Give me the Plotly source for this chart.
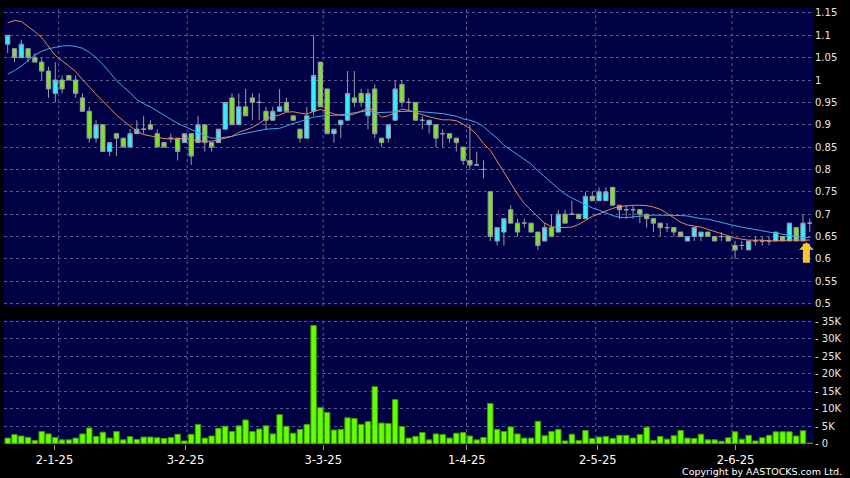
import plotly.graph_objects as go

# ---------------- data ----------------
IDX = list(range(119))  # trading-day index, 0 = 19 Dec 2024

OPEN = [1.08,1.07,1.05,1.07,1.05,1.04,1.02,0.97,1.00,1.01,
        1.00,0.96,0.93,0.87,0.90,0.84,0.88,0.87,0.85,0.88,
        0.89,0.90,0.88,0.86,0.87,0.87,0.86,0.88,0.86,0.90,
        0.86,0.86,0.89,0.96,0.90,0.94,0.96,0.95,0.93,0.91,
        0.93,0.95,0.92,0.89,0.87,0.93,1.04,0.98,0.88,0.90,
        0.91,0.96,0.97,0.92,0.98,0.87,0.87,0.91,0.99,0.95,
        0.95,0.91,0.90,0.90,0.88,0.88,0.87,0.85,0.82,0.81,
        0.80,0.75,0.64,0.66,0.71,0.68,0.68,0.68,0.66,0.64,
        0.67,0.66,0.70,0.70,0.70,0.69,0.74,0.73,0.73,0.76,
        0.72,0.71,0.71,0.71,0.70,0.69,0.68,0.67,0.67,0.66,
        0.64,0.65,0.65,0.66,0.65,0.65,0.65,0.63,0.63,0.62,
        0.64,0.64,0.64,0.64,0.65,0.64,0.67,0.64,0.68]
HIGH = [1.10,1.07,1.09,1.07,1.06,1.05,1.03,1.04,1.01,1.01,
        1.01,0.97,0.94,0.91,0.90,0.86,0.88,0.87,0.89,0.91,
        0.92,0.91,0.89,0.86,0.88,0.87,0.88,0.88,0.92,0.90,
        0.86,0.89,0.95,0.97,0.97,0.98,0.97,0.97,0.94,0.94,
        0.98,0.96,0.92,0.89,0.94,1.10,1.04,0.98,0.89,0.91,
        1.02,1.02,0.98,0.98,0.99,0.87,0.90,1.00,1.00,0.96,
        0.95,0.92,0.91,0.90,0.89,0.88,0.87,0.85,0.90,0.84,
        0.82,0.75,0.67,0.69,0.72,0.69,0.69,0.68,0.66,0.68,
        0.70,0.71,0.71,0.73,0.70,0.75,0.75,0.76,0.76,0.76,
        0.72,0.72,0.72,0.71,0.70,0.69,0.68,0.68,0.67,0.66,
        0.65,0.67,0.66,0.66,0.65,0.66,0.65,0.64,0.64,0.64,
        0.65,0.65,0.65,0.66,0.65,0.68,0.67,0.70,0.69]
LOW = [1.06,1.04,1.05,1.04,1.04,1.00,0.96,0.95,0.97,1.00,
       0.96,0.93,0.86,0.86,0.84,0.83,0.83,0.85,0.85,0.88,
       0.88,0.89,0.85,0.85,0.86,0.82,0.86,0.81,0.86,0.84,
       0.84,0.86,0.89,0.90,0.90,0.92,0.91,0.91,0.89,0.91,
       0.93,0.93,0.91,0.86,0.87,0.92,0.94,0.88,0.86,0.87,
       0.91,0.94,0.94,0.89,0.87,0.85,0.86,0.91,0.94,0.93,
       0.91,0.89,0.88,0.85,0.85,0.86,0.84,0.81,0.80,0.81,
       0.78,0.64,0.63,0.63,0.68,0.65,0.67,0.66,0.62,0.64,
       0.65,0.66,0.68,0.70,0.69,0.69,0.73,0.73,0.73,0.72,
       0.69,0.69,0.69,0.68,0.67,0.66,0.65,0.66,0.65,0.65,
       0.64,0.64,0.64,0.65,0.64,0.64,0.64,0.60,0.62,0.62,
       0.63,0.63,0.63,0.64,0.64,0.64,0.64,0.64,0.66]
CLOSE = [1.10,1.05,1.08,1.05,1.04,1.02,0.98,1.00,0.98,1.00,
         0.97,0.93,0.87,0.90,0.84,0.86,0.87,0.85,0.88,0.89,
         0.89,0.89,0.85,0.85,0.87,0.84,0.88,0.83,0.90,0.86,
         0.85,0.89,0.95,0.90,0.94,0.92,0.95,0.95,0.91,0.93,
         0.94,0.93,0.91,0.87,0.92,1.01,0.94,0.88,0.89,0.91,
         0.97,0.95,0.95,0.97,0.88,0.86,0.90,0.98,0.95,0.95,
         0.91,0.91,0.91,0.87,0.88,0.87,0.86,0.82,0.81,0.81,
         0.80,0.65,0.67,0.69,0.68,0.66,0.68,0.66,0.63,0.67,
         0.65,0.70,0.68,0.70,0.69,0.74,0.73,0.75,0.75,0.72,
         0.71,0.71,0.71,0.70,0.69,0.68,0.67,0.67,0.66,0.65,
         0.65,0.67,0.66,0.65,0.64,0.65,0.64,0.62,0.63,0.64,
         0.64,0.64,0.64,0.66,0.64,0.68,0.64,0.68,0.68]

VOLUME = [1600,2600,2200,1800,900,3500,2800,1800,1100,1100,
          1600,2800,4500,2100,3300,1600,3500,1100,2000,1200,
          1900,1900,1700,1500,1800,2700,800,2700,5500,1600,
          2200,4400,5000,3500,5100,6800,3500,4200,5100,2800,
          8300,5000,3000,4100,5500,33800,10300,8900,3900,4100,
          7400,7200,5500,6300,16300,5900,5800,12600,4900,1600,
          2100,3200,1100,2800,2600,1600,3000,3200,2200,1100,
          1800,11500,4100,3500,4800,2800,1600,1600,6400,2300,
          3500,4100,800,2700,900,3800,1500,1900,2100,1500,
          2400,2400,1600,2600,4700,900,2100,1300,2300,3800,
          1600,1500,2700,1100,1100,700,1700,3400,1300,2400,
          800,1700,2400,3400,3400,3400,2200,3700,200]

MA_SHORT = [1.128,1.133,1.131,1.120,1.108,1.095,1.075,1.055,1.043,1.032,
            1.019,1.001,0.984,0.968,0.953,0.937,0.922,0.909,0.896,0.885,
            0.878,0.875,0.871,0.869,0.868,0.868,0.869,0.867,0.864,0.863,
            0.863,0.866,0.870,0.874,0.883,0.889,0.894,0.903,0.914,0.918,
            0.922,0.928,0.929,0.926,0.924,0.930,0.934,0.930,0.924,0.921,
            0.921,0.924,0.930,0.937,0.932,0.917,0.920,0.927,0.935,0.932,
            0.927,0.922,0.918,0.914,0.911,0.911,0.909,0.901,0.892,0.878,
            0.858,0.843,0.818,0.792,0.767,0.745,0.724,0.708,0.694,0.680,
            0.672,0.670,0.670,0.671,0.677,0.686,0.695,0.701,0.707,0.713,
            0.717,0.719,0.720,0.720,0.719,0.716,0.711,0.702,0.692,0.682,
            0.676,0.673,0.671,0.666,0.661,0.656,0.651,0.647,0.644,0.642,
            0.642,0.642,0.640,0.640,0.641,0.642,0.642,0.642,0.642]
MA_LONG = [1.013,1.021,1.031,1.043,1.056,1.064,1.070,1.073,1.076,1.077,
           1.075,1.071,1.062,1.050,1.035,1.017,0.999,0.985,0.972,0.956,
           0.947,0.940,0.930,0.920,0.912,0.903,0.896,0.890,0.883,0.876,
           0.870,0.870,0.872,0.874,0.878,0.881,0.884,0.888,0.890,0.891,
           0.892,0.897,0.903,0.907,0.912,0.917,0.919,0.921,0.921,0.922,
           0.924,0.927,0.929,0.931,0.927,0.927,0.928,0.929,0.930,0.930,
           0.930,0.929,0.928,0.927,0.925,0.922,0.919,0.913,0.910,0.905,
           0.896,0.882,0.870,0.854,0.843,0.833,0.821,0.812,0.797,0.783,
           0.769,0.757,0.745,0.736,0.729,0.721,0.714,0.709,0.703,0.697,
           0.693,0.692,0.694,0.696,0.697,0.698,0.698,0.698,0.698,0.697,
           0.696,0.693,0.690,0.689,0.685,0.681,0.677,0.674,0.671,0.668,
           0.665,0.663,0.660,0.658,0.655,0.653,0.650,0.648,0.648]

PRICE_TICKS = [0.5, 0.55, 0.6, 0.65, 0.7, 0.75, 0.8, 0.85, 0.9, 0.95, 1.0, 1.05, 1.1, 1.15]
PRICE_TICK_TEXT = ["0.5", "0.55", "0.6", "0.65", "0.7", "0.75", "0.8", "0.85", "0.9", "0.95", "1", "1.05", "1.1", "1.15"]
VOL_TICKS = [0, 5000, 10000, 15000, 20000, 25000, 30000, 35000]
VOL_TICK_TEXT = ["0", "5K", "10K", "15K", "20K", "25K", "30K", "35K"]
DATE_LABELS = ["2-1-25", "3-2-25", "3-3-25", "1-4-25", "2-5-25", "2-6-25"]
DATE_LABEL_POS = [6.88, 26.15, 46.41, 67.54, 86.81, 107.07]
GRID_POS = [7.5, 26.41, 46.41, 67.5, 86.51, 106.56]
SIGNAL_AT = 117.5   # position of the yellow arrow
SIGNAL_PRICE = 0.637

# ---------------- style ----------------
BG = "#000044"
GRID = "#5a5a8c"
CYAN = "#33EEFF"
GREEN = "#7AE624"
EDGE = "#9a9aaa"
VOLC = "#66FF00"
FONT = "DejaVu Sans"
XR = [-0.544, 118.62]

fig = go.Figure()
fig.add_trace(go.Candlestick(
    x=IDX, open=OPEN, high=HIGH, low=LOW, close=CLOSE,
    increasing=dict(fillcolor=CYAN, line=dict(color=EDGE, width=1)),
    decreasing=dict(fillcolor=GREEN, line=dict(color=EDGE, width=1)),
    whiskerwidth=0, showlegend=False, xaxis="x", yaxis="y", hoverinfo="skip"))
fig.add_trace(go.Scatter(x=IDX, y=MA_LONG, mode="lines", line=dict(color="#3FA9F0", width=1),
                         showlegend=False, xaxis="x", yaxis="y", hoverinfo="skip"))
fig.add_trace(go.Scatter(x=IDX, y=MA_SHORT, mode="lines", line=dict(color="#E8875A", width=1),
                         showlegend=False, xaxis="x", yaxis="y", hoverinfo="skip"))
fig.add_trace(go.Bar(x=IDX, y=VOLUME, marker=dict(color=VOLC, line=dict(color="#3f9a00", width=1)),
                     showlegend=False, xaxis="x2", yaxis="y2", hoverinfo="skip"))

shapes = []
for g in GRID_POS:
    for xr, yr in (("x", "y domain"), ("x2", "y2 domain")):
        shapes.append(dict(type="line", xref=xr, yref=yr, x0=g, x1=g, y0=0, y1=1,
                           line=dict(color=GRID, width=1, dash="3px,3px"), layer="below"))

fig.update_layout(
    width=850, height=478,
    margin=dict(l=4, r=36, t=6, b=34),
    paper_bgcolor="#000000", plot_bgcolor=BG,
    boxgap=0.1, bargap=0.2,
    font=dict(family=FONT, color="#FFFFFF", size=10),
    shapes=shapes,
    xaxis=dict(domain=[0, 1], anchor="y", range=XR, showticklabels=False, showgrid=False,
               zeroline=False, showline=False, ticks="", rangeslider=dict(visible=False),
               fixedrange=True),
    yaxis=dict(domain=[0.3162, 1], anchor="x", side="right", range=[0.4944, 1.161],
               tickmode="array", tickvals=PRICE_TICKS, ticktext=PRICE_TICK_TEXT, tickprefix="- ",
               showgrid=True, gridcolor=GRID, griddash="3px,3px", gridwidth=1,
               zeroline=False, showline=False, ticks="",
               tickfont=dict(family=FONT, size=10, color="#E6E6E6")),
    xaxis2=dict(domain=[0, 1], anchor="y2", range=XR, tickmode="array", tickvals=DATE_LABEL_POS,
                ticktext=DATE_LABELS, ticks="outside", ticklen=5, tickcolor="#9a9a9a",
                showgrid=False, zeroline=False, showline=False,
                tickfont=dict(family=FONT, size=11.5, color="#FFFFFF")),
    yaxis2=dict(domain=[0, 0.2847], anchor="x2", side="right", range=[-85, 35400],
                tickmode="array", tickvals=VOL_TICKS, ticktext=["- " + t for t in VOL_TICK_TEXT],
                showgrid=True, gridcolor=GRID, griddash="3px,3px", gridwidth=1,
                zeroline=False, showline=False, ticks="",
                tickfont=dict(family=FONT, size=10, color="#E6E6E6")),
    annotations=[
        dict(x=SIGNAL_AT, y=SIGNAL_PRICE, xref="x", yref="y", text="", showarrow=True,
             ax=0, ay=22, arrowhead=1, arrowsize=0.35, arrowwidth=7, arrowcolor="#F8C630",
             standoff=0),
        dict(x=1.037, y=-0.063, xref="paper", yref="paper", xanchor="right", yanchor="middle",
             text="Copyright by AASTOCKS.com Ltd.", showarrow=False,
             font=dict(family=FONT, size=9.5, color="#FFFFFF")),
    ],
)

fig.write_html("out.html", config={"displayModeBar": False},
               post_script="document.body.style.margin='0px';document.body.style.background='#000000';")
